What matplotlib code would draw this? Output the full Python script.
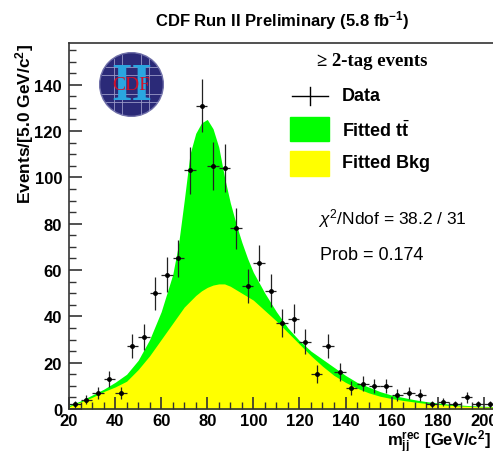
import numpy as np
import matplotlib
matplotlib.use("Agg")
import matplotlib.pyplot as plt
from matplotlib.patches import Circle, Rectangle
from matplotlib.lines import Line2D

# data points (bin centres, 5 GeV bins)
bin_centres = [22.5, 27.5, 32.5, 37.5, 42.5, 47.5, 52.5, 57.5, 62.5, 67.5,
               72.5, 77.5, 82.5, 87.5, 92.5, 97.5, 102.5, 107.5, 112.5, 117.5,
               122.5, 127.5, 132.5, 137.5, 142.5, 147.5, 152.5, 157.5, 162.5, 167.5,
               172.5, 177.5, 182.5, 187.5, 192.5, 197.5, 202.5]
counts = [2, 4, 7, 13, 7, 27, 31, 50, 58, 65,
          103, 131, 105, 104, 78, 53, 63, 51, 37, 39,
          29, 15, 27, 16, 9, 11, 10, 10, 6, 7,
          6, 2, 3, 2, 5, 2, 2]

# fitted curves
fit_x = [20, 25, 30, 35, 40, 45, 50, 55, 60, 65, 67.5, 70, 72.5, 75, 77.5, 80,
         82.5, 85, 87.5, 90, 92.5, 95, 97.5, 100, 105, 110, 115, 120, 125, 130,
         135, 140, 145, 150, 155, 160, 165, 170, 175, 180, 185, 190, 195, 200, 205]
fit_total = [1.5, 3.5, 6, 8.5, 11.5, 15, 21, 30, 42, 58, 71, 90, 110, 119, 123.5, 125,
             121, 113, 100, 89, 80, 72, 65, 59, 50, 42, 35, 29.5, 25, 21.5,
             18, 14.5, 11.5, 9.5, 7.5, 6, 5, 4, 3.2, 2.6, 2.1, 1.7, 1.4, 1.2, 1.0]
fit_bkg = [1, 3, 5, 7.5, 9.5, 12, 17, 23, 30, 37, 40.5, 44, 46.5, 49, 51, 52.5,
           53.5, 54, 54, 53, 51.5, 50, 48.5, 47, 42.5, 38, 33, 28, 23, 18.5,
           14.5, 11.5, 9, 7, 5.5, 4.5, 3.7, 3, 2.4, 2, 1.6, 1.3, 1.1, 0.9, 0.8]

GREEN = "#00ff00"
YELLOW = "#ffff00"

plt.rcParams['font.family'] = ['Liberation Sans', 'DejaVu Sans']
plt.rcParams['mathtext.fontset'] = 'custom'
plt.rcParams['mathtext.rm'] = 'Liberation Sans'
plt.rcParams['mathtext.it'] = 'Liberation Sans:italic'
plt.rcParams['mathtext.bf'] = 'Liberation Sans:bold'

fig = plt.figure(figsize=(4.93, 4.52), dpi=100)
ax = fig.add_axes([69/493, 1 - 410/452, 1 - 69/493, (410 - 44)/452])

ax.fill_between(fit_x, 0, fit_total, color=GREEN, lw=0)
ax.fill_between(fit_x, 0, fit_bkg, color=YELLOW, lw=0)

errs = np.sqrt(np.array(counts, dtype=float))
ax.errorbar(bin_centres, counts, yerr=errs, xerr=2.5, fmt='o', ms=2.5,
            color='black', ecolor='#222222', elinewidth=0.9, capsize=0)

ax.set_xlim(20, 204)
ax.set_ylim(0, 158)
ax.spines['right'].set_visible(False)
for s in ['left', 'bottom', 'top']:
    ax.spines[s].set_linewidth(1.2)
    ax.spines[s].set_color('#333333')

ax.set_xticks(np.arange(20, 201, 20))
ax.set_xticks(np.arange(20, 205, 5), minor=True)
ax.set_yticks(np.arange(0, 141, 20))
ax.set_yticks(np.arange(0, 158, 5), minor=True)
ax.tick_params(which='major', direction='in', length=9, width=1.2, color='#333333',
               labelsize=12, pad=2)
ax.tick_params(axis='x', which='major', pad=3)
ax.tick_params(axis='y', which='major', pad=5)
ax.tick_params(which='minor', direction='in', length=5, width=1.0, color='#333333')
for lab in ax.get_xticklabels() + ax.get_yticklabels():
    lab.set_fontweight('bold')

fig.text(25/493, 1 - 44/452, "Events/[5.0 GeV/c$^\\mathbf{2}$]", rotation=90,
         ha='center', va='top', fontsize=12.5, fontweight='bold')
fig.text(0.995, 1 - 443/452, "m$_{\\mathbf{jj}}^{\\mathbf{rec}}$ [GeV/c$^\\mathbf{2}$]",
         ha='right', va='center', fontsize=12, fontweight='bold')

fig.text(282/493, 1 - 21/452, "CDF Run II Preliminary (5.8 fb$^{\\mathbf{-1}}$)",
         ha='center', va='center', fontsize=12, fontweight='bold')

# labels inside the frame
fig.text(372/493, 1 - 62/452, "\u2265 2-tag events", ha='center', va='center',
         fontsize=13.5, fontweight='bold', family=['Liberation Serif', 'DejaVu Serif'])

# legend drawn by hand
fig.add_artist(Line2D([292/493, 328/493], [1 - 97/452] * 2, color='black', lw=1))
fig.add_artist(Line2D([310/493, 310/493], [1 - 88/452, 1 - 106/452], color='black', lw=1))
fig.text(342/493, 1 - 97/452, "Data", ha='left', va='center', fontsize=13, fontweight='bold')
fig.add_artist(Rectangle((290/493, 1 - 142/452), 39/493, 24/452, color=GREEN,
                         transform=fig.transFigure))
fig.text(342/493, 1 - 131/452, "Fitted t$\\bar{\\mathbf{t}}$", ha='left', va='center',
         fontsize=13, fontweight='bold')
fig.add_artist(Rectangle((290/493, 1 - 177/452), 39/493, 25/452, color=YELLOW,
                         transform=fig.transFigure))
fig.text(342/493, 1 - 164/452, "Fitted Bkg", ha='left', va='center', fontsize=13,
         fontweight='bold')

fig.text(318/493, 1 - 219/452, "$\\chi^2$/Ndof = 38.2 / 31", ha='left', va='center',
         fontsize=12.5)
fig.text(320/493, 1 - 256/452, "Prob = 0.174", ha='left', va='center', fontsize=13)

# CDF logo
lax = fig.add_axes([99/493, 1 - 118/452, 65/493, 65/452])
lax.set_xlim(-1, 1)
lax.set_ylim(-1, 1)
lax.set_aspect('equal')
lax.axis('off')
lax.add_patch(Circle((0, 0), 0.98, facecolor='#2b2a78', edgecolor='#6f6fa8', lw=1))
for v in [-0.55, -0.3, 0.3, 0.55]:
    lax.plot([v, v], [-np.sqrt(0.9 - v**2), np.sqrt(0.9 - v**2)], color='#9a9ac8', lw=0.6)
    lax.plot([-np.sqrt(0.9 - v**2), np.sqrt(0.9 - v**2)], [v, v], color='#9a9ac8', lw=0.6)
lax.text(0, -0.04, "II", ha='center', va='center', fontsize=38, color='#2aa6e0',
         fontweight='bold', family='Liberation Serif')
lax.text(0, 0.0, "CDF", ha='center', va='center', fontsize=14, color='#d0102a',
         family='Liberation Serif')

fig.savefig("out.png", dpi=100)
